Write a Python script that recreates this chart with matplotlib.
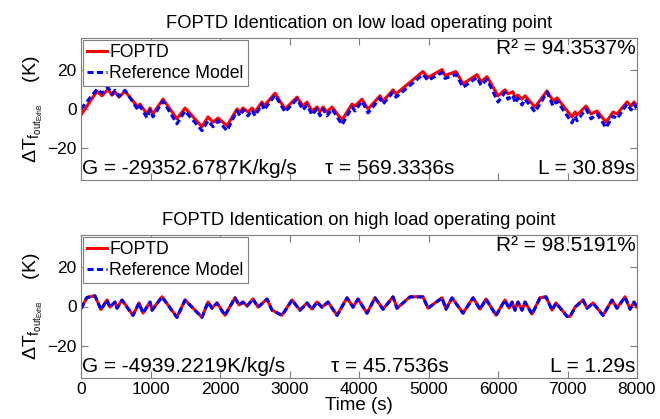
import matplotlib
matplotlib.use("Agg")
import matplotlib.pyplot as plt

plt.rcParams['font.family'] = ['Liberation Sans', 'DejaVu Sans']
plt.rcParams['mathtext.fontset'] = 'custom'
plt.rcParams['mathtext.rm'] = 'Liberation Sans'
plt.rcParams['mathtext.it'] = 'Liberation Sans'

# ---------------- data ----------------
low_time = [0, 230, 302, 389, 446, 489, 547, 633, 820, 849, 950, 993, 1036, 1180, 1381,
            1497, 1741, 1828, 1900, 1971, 2101, 2245, 2288, 2331, 2403, 2461, 2504, 2605,
            2633, 2792, 2936, 3108, 3195, 3252, 3324, 3396, 3439, 3483, 3540, 3612, 3756,
            3900, 3943, 4044, 4130, 4303, 4346, 4490, 4533, 4921, 4993, 5195, 5238, 5396,
            5497, 5698, 5756, 5842, 6001, 6101, 6144, 6216, 6245, 6288, 6346, 6389, 6533,
            6706, 6792, 6850, 7065, 7109, 7137, 7267, 7339, 7425, 7555, 7656, 7713, 7857,
            7915, 7958, 8000]
low_fopdt = [-3, 9, 6.7, 10, 7, 8.7, 6, 9, 1, 2.5, -2.5, 0.5, -2.5, 5, -5,
             0.5, -9, -4, -6.7, -4.6, -8.5, 0, -1.5, 0.5, -1.5, 0.5, -1.5, 3.6,
             1.5, 8, 0, 6, 1.5, 3.5, -1, 1, -1.5, 1, -1.5, 1, -5.6,
             2.5, 1.5, 5, 0, 6.7, 4, 9.7, 7.7, 19, 16, 20, 17, 19,
             12.8, 17.4, 13.8, 16.4, 6.7, 9.7, 7.7, 8.7, 6, 7, 5, 6.7, 1,
             9.2, 4, 5.6, -4, -1.5, -3, 1.5, -2.5, -1, -6.7, -1.5, -2.5, 3.6,
             1.5, 3.6, 1.5]
low_ref = [0, 10, 8, 11, 7.5, 9.5, 6.5, 9.5, -0.5, 1.5, -4.5, -0.5, -4, 4, -7.5,
           -1, -11, -6, -9, -6, -11, -1, -3.5, -0.5, -3.5, -0.5, -3.5, 2.5,
           -0.5, 7, -1.5, 5, -0.5, 2, -3, 0, -3.5, 0, -3.5, 0, -8,
           1, -1, 4, -2, 5.5, 2.5, 8.5, 6, 17.5, 14.5, 18.5, 15.5, 17.5,
           11, 16, 12, 15, 3.5, 8.5, 5, 7, 3, 5.5, 2, 5, -1.5,
           8.5, 1.5, 4, -7, -3.5, -6, 0, -5, -2.5, -9.5, -3.5, -5, 2.5,
           -0.5, 2.5, 0]

high_time = [0, 86, 201, 288, 374, 417, 489, 518, 590, 748, 835, 892, 993, 1022, 1166,
             1381, 1497, 1741, 1828, 1885, 1957, 2072, 2216, 2274, 2331, 2389, 2475, 2547,
             2677, 2748, 2892, 3036, 3151, 3252, 3324, 3396, 3468, 3554, 3684, 3828, 3914,
             3986, 4115, 4231, 4346, 4490, 4547, 4734, 4921, 4993, 5195, 5252, 5339, 5497,
             5641, 5742, 5828, 5972, 6101, 6159, 6202, 6245, 6288, 6346, 6389, 6490, 6605,
             6691, 6778, 6835, 6994, 7037, 7109, 7224, 7281, 7368, 7512, 7641, 7713, 7828,
             7900, 7958, 8000]
high_fopdt = [-1, 4.6, 5.4, -1.5, 3.3, -0.3, 2.3, -0.8, 3.3, -4.4, 1.8, -3.3, 2.3, -1.8, 4.9,
              -5.4, 3.3, -5.4, 2.3, -0.8, 1.8, -4.4, 4.4, 0.8, 2.3, 0.3, 3.8, -0.3,
              3.8, -1.8, -4.4, 3.3, -1.8, 1.8, -1.3, 2.3, -0.3, 2.3, -4.4, 4.4, -0.3,
              3.8, -3.3, 4.4, -1.3, 4.9, -0.8, 4.9, 4.9, -0.8, 4.4, -1.3, 4.4, -3.3,
              4.4, -1.3, 3.8, -4.4, 3.3, -0.8, 2.3, -1.8, 2.3, -1.8, 2.3, -3.8, 4.4,
              4.9, -1.8, 1.8, -4.9, -5.0, -0.3, 3.3, -0.8, 1.8, -4.4, 3.3, -0.8, 4.9,
              -1.3, 2.3, -0.3]
high_ref = [-1, 4.5, 5.3, -1.6, 3.2, -0.4, 2.2, -0.9, 3.2, -4.5, 1.7, -3.4, 2.2, -1.9, 4.8,
            -5.5, 3.2, -5.5, 2.2, -0.9, 1.7, -4.5, 4.3, 0.7, 2.2, 0.2, 3.7, -0.4,
            3.7, -1.9, -4.5, 3.2, -1.9, 1.7, -1.4, 2.2, -0.4, 2.2, -4.5, 4.3, -0.4,
            3.7, -3.4, 4.3, -1.4, 4.8, -0.9, 4.8, 4.8, -0.9, 4.3, -1.4, 4.3, -3.4,
            4.3, -1.4, 3.7, -4.5, 3.2, -0.9, 2.2, -1.9, 2.2, -1.9, 2.2, -3.9, 4.3,
            4.8, -1.9, 1.7, -5.0, -5.1, -0.4, 3.2, -0.9, 1.7, -4.5, 3.2, -0.9, 4.8,
            -1.4, 2.2, -0.4]

titles = ["FOPTD Identication on low load operating point",
          "FOPTD Identication on high load operating point"]
gain_txt = ["G = -29352.6787K/kg/s", "G = -4939.2219K/kg/s"]
tau_txt = ["\u03c4 = 569.3336s", "\u03c4 = 45.7536s"]
delay_txt = ["L = 30.89s", "L = 1.29s"]
r2_txt = ["R\u00b2 = 94.3537%", "R\u00b2 = 98.5191%"]
xticks = [0, 1000, 2000, 3000, 4000, 5000, 6000, 7000, 8000]
yticks = [-20, 0, 20]

# ---------------- figure ----------------
fig = plt.figure(figsize=(6.6, 4.19), dpi=100)
ax1 = fig.add_axes([81/660, 1-180/419, 556/660, 142/419])
ax2 = fig.add_axes([81/660, 1-378/419, 556/660, 143/419])

series = [(low_time, low_fopdt, low_ref), (high_time, high_fopdt, high_ref)]
for i, ax in enumerate([ax1, ax2]):
    t, f, r = series[i]
    ax.plot(t, f, color='#ff0000', lw=2.2, label='FOPTD')
    ax.plot(t, r, color='#0000ff', lw=2.2, ls=(0, (2.0, 1.1)), label='Reference Model')
    ax.set_xlim(0, 8000)
    ax.set_ylim(-36, 36)
    ax.set_xticks(xticks)
    ax.set_yticks(yticks)
    ax.tick_params(direction='in', top=True, right=True, labelsize=12.5,
                   length=5, color='#7f7f7f', pad=3)
    for sp in ax.spines.values():
        sp.set_color('#7f7f7f')
        sp.set_linewidth(0.8)
    if i == 0:
        ax.set_xticklabels([])
    ax.set_title(titles[i], fontsize=13.2, pad=7)
    ax.set_ylabel(r'$\Delta T_{f_{out_{ExhB}}}$    (K)', fontsize=14, labelpad=2)
    leg = ax.legend(loc='upper left', fontsize=12.7, handlelength=1.1,
                    handletextpad=0.15, borderpad=0.25, labelspacing=0.2,
                    borderaxespad=0.1, fancybox=False, framealpha=1)
    leg.get_frame().set_edgecolor('#7f7f7f')
    leg.get_frame().set_linewidth(0.8)
    ax.text(0.002, 0.015, gain_txt[i], transform=ax.transAxes, fontsize=15,
            ha='left', va='bottom')
    ax.text(0.555, 0.015, tau_txt[i], transform=ax.transAxes, fontsize=15,
            ha='center', va='bottom')
    ax.text(0.997, 0.015, delay_txt[i], transform=ax.transAxes, fontsize=15,
            ha='right', va='bottom')
    ax.text(0.997, 0.995, r2_txt[i], transform=ax.transAxes, fontsize=15,
            ha='right', va='top')

ax2.set_xlabel('Time (s)', fontsize=13.5, labelpad=0)

fig.savefig('out.png', dpi=100)
